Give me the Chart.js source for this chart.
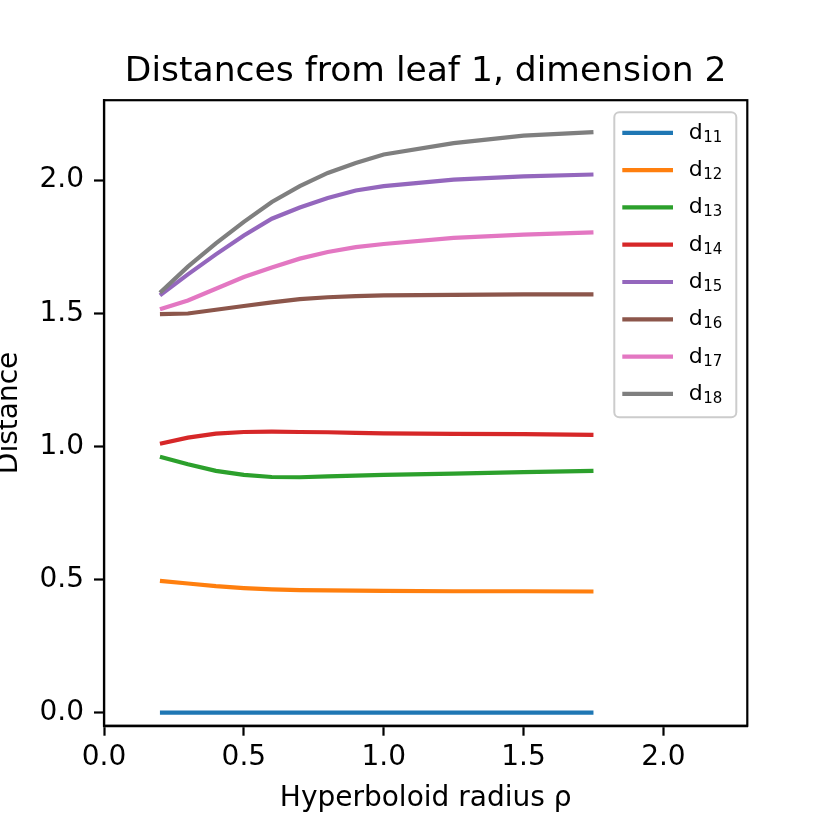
<!DOCTYPE html>
<html>
<head>
<meta charset="utf-8">
<script src="https://cdn.jsdelivr.net/npm/chart.js@4.4.1/dist/chart.umd.min.js"></script>
<style>
  html, body { margin: 0; padding: 0; background: #fff; }
  #wrap { width: 830px; height: 830px; }
</style>
</head>
<body>
<div id="wrap"><canvas id="distChart" width="830" height="830"></canvas></div>
<script>
// hyperboloid radius values (x)
const radius = [0.2, 0.3, 0.4, 0.5, 0.6, 0.7, 0.8, 0.9, 1.0, 1.25, 1.5, 1.75];

// distances from leaf 1
const d11 = [0, 0, 0, 0, 0, 0, 0, 0, 0, 0, 0, 0];
const d12 = [0.495, 0.485, 0.475, 0.468, 0.463, 0.460, 0.459, 0.458, 0.457, 0.456, 0.456, 0.455];
const d13 = [0.961, 0.933, 0.908, 0.893, 0.885, 0.884, 0.887, 0.890, 0.893, 0.898, 0.903, 0.908];
const d14 = [1.010, 1.033, 1.048, 1.054, 1.055, 1.054, 1.053, 1.051, 1.049, 1.047, 1.046, 1.043];
const d15 = [1.567, 1.646, 1.721, 1.792, 1.855, 1.897, 1.933, 1.961, 1.977, 2.002, 2.014, 2.021];
const d16 = [1.497, 1.499, 1.513, 1.527, 1.541, 1.553, 1.560, 1.564, 1.567, 1.569, 1.571, 1.571];
const d17 = [1.515, 1.548, 1.592, 1.636, 1.672, 1.705, 1.730, 1.748, 1.760, 1.783, 1.795, 1.804];
const d18 = [1.577, 1.675, 1.762, 1.843, 1.918, 1.977, 2.027, 2.064, 2.096, 2.139, 2.167, 2.180];

const seriesData = [d11, d12, d13, d14, d15, d16, d17, d18];
const seriesSubs = ["11", "12", "13", "14", "15", "16", "17", "18"];
const seriesColors = ["#1f77b4", "#ff7f0e", "#2ca02c", "#d62728", "#9467bd", "#8c564b", "#e377c2", "#7f7f7f"];

const xTicks = [0, 0.5, 1.0, 1.5, 2.0];
const yTicks = [0, 0.5, 1.0, 1.5, 2.0];

Chart.defaults.font.family = "'DejaVu Sans', sans-serif";
Chart.defaults.color = "#000";

// box round the plot (top and right sides too)
const frame = {
  id: "frame",
  afterDraw(chart) {
    const { ctx, chartArea: a } = chart;
    ctx.save();
    ctx.strokeStyle = "#000";
    ctx.lineWidth = 2.2;
    ctx.strokeRect(a.left, a.top, a.right - a.left, a.bottom - a.top);
    ctx.restore();
  },
};

// matplotlib-like legend in the upper right, with subscripts
const cornerLegend = {
  id: "cornerLegend",
  afterDraw(chart) {
    const { ctx, chartArea: a } = chart;
    const w = 122, h = 305;
    const left = a.right - 11 - w;
    const top = a.top + 12;
    const rowH = 37.3;
    ctx.save();
    ctx.beginPath();
    ctx.roundRect(left, top, w, h, 5);
    ctx.fillStyle = "rgba(255,255,255,0.8)";
    ctx.fill();
    ctx.strokeStyle = "#cccccc";
    ctx.lineWidth = 2;
    ctx.stroke();

    chart.data.datasets.forEach((ds, i) => {
      const cy = top + 20.6 + i * rowH;
      ctx.beginPath();
      ctx.moveTo(left + 8, cy);
      ctx.lineTo(left + 58.7, cy);
      ctx.strokeStyle = ds.borderColor;
      ctx.lineWidth = 4.2;
      ctx.stroke();

      ctx.fillStyle = "#000";
      ctx.textBaseline = "alphabetic";
      ctx.textAlign = "left";
      ctx.font = "22px 'DejaVu Sans'";
      const tx = left + 74.5;
      ctx.fillText("d", tx, cy + 6);
      const dw = ctx.measureText("d").width;
      ctx.font = "15px 'DejaVu Sans'";
      ctx.fillText(seriesSubs[i], tx + dw + 0.5, cy + 9);
    });
    ctx.restore();
  },
};

const datasets = seriesData.map((vals, i) => ({
  label: "d" + seriesSubs[i],
  data: radius.map((r, j) => ({ x: r, y: vals[j] })),
  borderColor: seriesColors[i],
  backgroundColor: seriesColors[i],
  borderWidth: 4.2,
  pointRadius: 0,
  tension: 0,
  fill: false,
  order: seriesData.length - i,
}));

new Chart(document.getElementById("distChart").getContext("2d"), {
  type: "line",
  data: { datasets: datasets },
  options: {
    responsive: false,
    animation: false,
    layout: { padding: { left: 0, right: 82.7, top: 0, bottom: 0 } },
    plugins: {
      legend: { display: false },
      tooltip: { enabled: false },
      title: {
        display: true,
        fullSize: false,
        text: "Distances from leaf 1, dimension 2",
        color: "#000",
        font: { size: 34.5, weight: "normal", lineHeight: 1.2 },
        padding: { top: 51.5, bottom: 7.3 },
      },
    },
    scales: {
      x: {
        type: "linear",
        min: 0,
        max: 2.3,
        afterBuildTicks: (s) => { s.ticks = xTicks.map((v) => ({ value: v })); },
        afterFit: (s) => { s.height = 104.3; },
        ticks: {
          callback: (v) => Number(v).toFixed(1),
          font: { size: 28 },
          padding: 5,
          maxRotation: 0,
          autoSkip: false,
        },
        grid: { drawOnChartArea: false, drawTicks: true, tickLength: 10, tickWidth: 2.2, tickColor: "#000" },
        border: { display: true, color: "#000", width: 2.2 },
        title: {
          display: true,
          text: "Hyperboloid radius ρ",
          font: { size: 28 },
          padding: { top: 0, bottom: 14 },
        },
      },
      y: {
        type: "linear",
        min: -0.049,
        max: 2.3,
        afterBuildTicks: (s) => { s.ticks = yTicks.map((v) => ({ value: v })); },
        afterFit: (s) => { s.width = 104; },
        ticks: {
          callback: (v) => Number(v).toFixed(1),
          font: { size: 28 },
          padding: 10,
          autoSkip: false,
        },
        grid: { drawOnChartArea: false, drawTicks: true, tickLength: 10, tickWidth: 2.2, tickColor: "#000" },
        border: { display: true, color: "#000", width: 2.2 },
        title: {
          display: true,
          text: "Distance",
          font: { size: 28, lineHeight: 0.7 },
          padding: 0,
        },
      },
    },
  },
  plugins: [frame, cornerLegend],
});
</script>
</body>
</html>
